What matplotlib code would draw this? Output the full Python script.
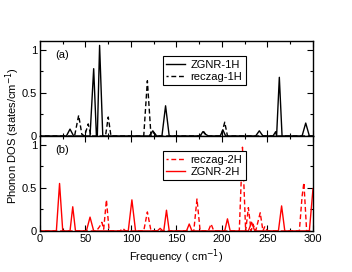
import matplotlib
matplotlib.use('Agg')
import matplotlib.pyplot as plt
from matplotlib.ticker import MultipleLocator, FormatStrFormatter

plt.rcParams['font.family'] = ['Liberation Sans', 'DejaVu Sans']
plt.rcParams['font.size'] = 8

# panel (a)
f_zgnr1 = [0, 29, 33, 37, 55, 59, 62, 63, 65.5, 69, 120, 124, 128, 134, 138, 142,
           176, 179, 182, 185, 198, 201, 204, 237, 241, 245, 256, 259, 260, 263, 266,
           288, 292, 296, 300]
d_zgnr1 = [0, 0, 0.08, 0, 0, 0.78, 0, 0, 1.05, 0, 0, 0.06, 0, 0, 0.35, 0,
           0, 0.05, 0.02, 0, 0, 0.07, 0, 0, 0.06, 0, 0, 0.05, 0, 0.68, 0,
           0, 0.15, 0, 0]

f_rec1 = [0, 38, 42.5, 46, 49, 53, 56, 72, 75, 78, 114, 118, 122, 125, 128,
          176, 180, 183, 186, 199, 203, 206, 300]
d_rec1 = [0, 0, 0.24, 0.02, 0, 0.14, 0, 0, 0.22, 0, 0, 0.64, 0, 0.04, 0,
          0, 0.05, 0, 0, 0, 0.16, 0, 0]

# panel (b)
f_zgnr2 = [0, 18, 21.5, 25, 33, 36, 39, 51, 55, 59, 97, 101, 105, 129, 132, 135,
           136, 139, 142, 161, 164, 167, 203, 206, 209, 229, 232.5, 236,
           262, 265.5, 269, 296, 300]
d_zgnr2 = [0, 0, 0.55, 0, 0, 0.28, 0, 0, 0.16, 0, 0, 0.36, 0, 0, 0.03, 0,
           0, 0.24, 0, 0, 0.08, 0, 0, 0.14, 0, 0, 0.10, 0,
           0, 0.29, 0, 0, 0.49]

f_rec2 = [0, 62, 65.5, 68, 70, 73, 76, 88, 91, 94, 114, 118, 122,
          169, 172.5, 176, 185, 188, 191, 219, 222.5, 226, 229, 232, 234, 237,
          242, 245, 247, 250, 285, 288, 290, 293, 300]
d_rec2 = [0, 0, 0.05, 0.10, 0.02, 0.36, 0, 0, 0.03, 0, 0, 0.22, 0,
          0, 0.37, 0, 0, 0.08, 0, 0, 0.97, 0, 0.27, 0, 0.08, 0,
          0.21, 0, 0.05, 0, 0, 0.40, 0.56, 0, 0]

fig = plt.figure(figsize=(3.52, 2.72), dpi=100)
ax1 = fig.add_axes([0.1136, 0.5, 0.7756, 0.349])
ax2 = fig.add_axes([0.1136, 0.151, 0.7756, 0.349])

dash = (2, (3.5, 2))
ax1.plot(f_zgnr1, d_zgnr1, c='k', lw=1, label='ZGNR-1H')
ax1.plot(f_rec1, d_rec1, c='k', lw=1, ls=dash, label='reczag-1H')
ax2.plot(f_rec2, d_rec2, c='r', lw=1, ls=dash, label='reczag-2H')
ax2.plot(f_zgnr2, d_zgnr2, c='r', lw=1, label='ZGNR-2H')

for ax, lab in [(ax1, '(a)'), (ax2, '(b)')]:
    ax.set_xlim(0, 300)
    ax.set_ylim(0, 1.1)
    ax.xaxis.set_major_locator(MultipleLocator(50))
    ax.xaxis.set_minor_locator(MultipleLocator(25))
    ax.yaxis.set_major_locator(MultipleLocator(0.5))
    ax.yaxis.set_minor_locator(MultipleLocator(0.25))
    ax.yaxis.set_major_formatter(FormatStrFormatter('%g'))
    ax.tick_params(which='both', direction='in', top=True, right=True, width=0.8)
    ax.tick_params(which='major', length=4, pad=2)
    ax.tick_params(which='minor', length=2)
    for s in ax.spines.values():
        s.set_linewidth(1)
    ax.text(0.055, 0.82, lab, transform=ax.transAxes, fontsize=8)
    leg = ax.legend(loc='upper left', bbox_to_anchor=(0.45, 0.84), fancybox=False,
                    edgecolor='k', handlelength=1.7, borderpad=0.3, labelspacing=0.2,
                    handletextpad=0.5, borderaxespad=0, framealpha=1)
    leg.get_frame().set_linewidth(0.8)

ax1.tick_params(labelbottom=False)
ax2.set_xlabel('Frequency ( cm$^{-1}$)', labelpad=3)
fig.text(0.035, 0.5, 'Phonon DOS (states/cm$^{-1}$)', rotation=90, va='center', ha='center')

fig.savefig('out.png', dpi=100)
